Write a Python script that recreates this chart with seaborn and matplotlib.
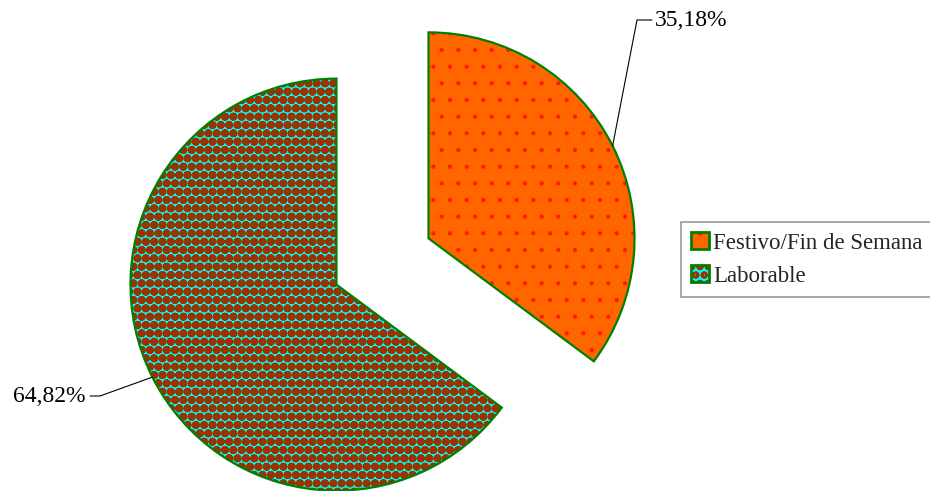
import matplotlib
matplotlib.use("Agg")
import matplotlib.pyplot as plt
import seaborn as sns
from matplotlib.patches import Wedge, Patch
import numpy as np

# ---- data ----
categories = ["Festivo/Fin de Semana", "Laborable"]
values = [35.18, 64.82]
labels = ["35,18%", "64,82%"]

# ---- style ----
face_colors = ["#FF6600", "#00FFFF"]
hatch_colors = ["#FF1A00", "#993300"]
hatches = [".", "OOoo"]
hatch_lw = [0.6, 1.6]
edge_color = "#008000"

sns.set_theme(style="white")
plt.rcParams["font.family"] = ["Liberation Serif", "DejaVu Serif"]

W, H = 930, 491
fig = plt.figure(figsize=(W / 100, H / 100), dpi=100)
ax = fig.add_axes([0, 0, 1, 1])

R_px = 206.0
cx, cy = 382.5, 261.5  # pie centre in pixels (from top-left)

wedges, _ = ax.pie(values, startangle=90, counterclock=False,
                   colors=face_colors, explode=[0.25, 0.25],
                   wedgeprops=dict(edgecolor="none", linewidth=0))

for i, w in enumerate(wedges):
    with plt.rc_context({"hatch.linewidth": hatch_lw[i]}):
        hw = Wedge(w.center, w.r, w.theta1, w.theta2, facecolor="none",
                   edgecolor=hatch_colors[i], linewidth=0, hatch=hatches[i], zorder=3)
        ax.add_patch(hw)
    ew = Wedge(w.center, w.r, w.theta1, w.theta2, facecolor="none",
               edgecolor=edge_color, linewidth=1.6, zorder=4, joinstyle="miter")
    ax.add_patch(ew)

ax.set_xlim(-cx / R_px, (W - cx) / R_px)
ax.set_ylim(-(H - cy) / R_px, cy / R_px)
ax.set_aspect("equal", adjustable="datalim")
ax.axis("off")

# ---- leader lines & labels ----
def arc_point(w):
    mid = np.deg2rad((w.theta1 + w.theta2) / 2)
    return (w.center[0] + w.r * np.cos(mid), w.center[1] + w.r * np.sin(mid))

def px(x, y):
    return ((x - cx) / R_px, (cy - y) / R_px)

lab_geom = [
    dict(elbow=px(637, 20), end=px(652, 20), text=px(655, 20), ha="left"),
    dict(elbow=px(100, 396), end=px(90, 396), text=px(86, 396), ha="right"),
]
for w, lab, g in zip(wedges, labels, lab_geom):
    p0 = arc_point(w)
    ax.plot([p0[0], g["elbow"][0], g["end"][0]],
            [p0[1], g["elbow"][1], g["end"][1]], color="black", lw=0.8, zorder=5)
    ax.text(g["text"][0], g["text"][1], lab, ha=g["ha"], va="center",
            fontsize=17, color="black")

# ---- legend ----
handles = []
for i in range(len(categories)):
    with plt.rc_context({"hatch.linewidth": hatch_lw[i]}):
        hp = Patch(facecolor="none", edgecolor=hatch_colors[i], linewidth=0, hatch=hatches[i])
    handles.append((Patch(facecolor=face_colors[i], edgecolor="none"), hp,
                    Patch(facecolor="none", edgecolor=edge_color, linewidth=2)))

leg = fig.legend(handles, categories, loc="upper left",
                 bbox_to_anchor=(681 / W, 1 - 222 / H), fontsize=16.5,
                 frameon=True, fancybox=False, edgecolor="#808080",
                 handlelength=0.75, handleheight=0.75, handletextpad=0.2,
                 borderpad=0.45, labelspacing=0.5, borderaxespad=0)
leg._legend_box.align = "left"
leg.get_frame().set_linewidth(1.2)

fig.savefig("out.png", dpi=100)
